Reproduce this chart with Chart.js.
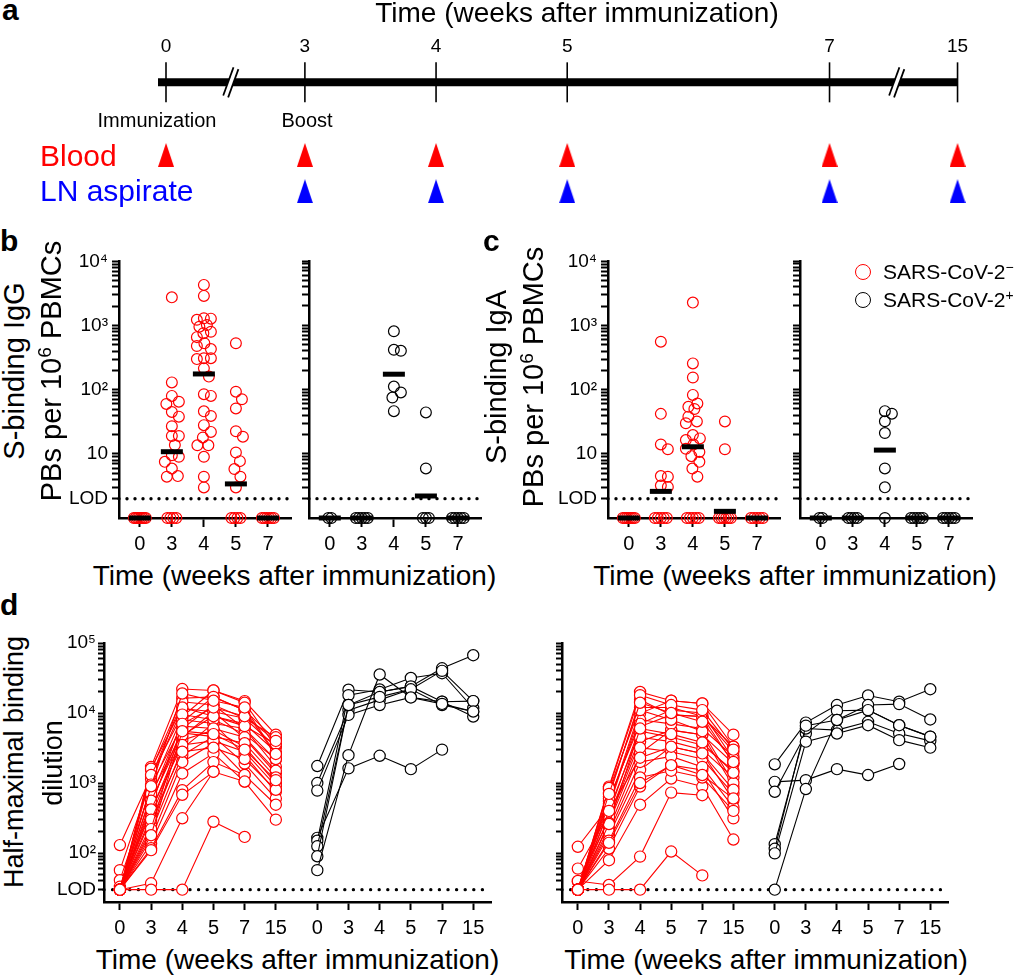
<!DOCTYPE html>
<html>
<head>
<meta charset="utf-8">
<script src="https://cdn.jsdelivr.net/npm/chart.js@4.4.1/dist/chart.umd.min.js"></script>
<style>
  html, body { margin: 0; padding: 0; background: #fff; }
  body { position: relative; width: 1014px; height: 976px; overflow: hidden; font-family: "Liberation Sans", Arial, sans-serif; color: #000; }
  .plot { position: absolute; }
  .t { position: absolute; white-space: nowrap; line-height: 1; }
  .t sup { font-size: 0.66em; line-height: 0; vertical-align: 0.5em; }
  .dot { position: absolute; width: 16px; height: 16px; border-radius: 50%; box-sizing: border-box; }
</style>
</head>
<body>
<script>
// ---------- a: timeline
const timelineWeeks = [0, 3, 4, 5, 7, 15];
const bloodWeeks = [0, 3, 4, 5, 7, 15];
const lnWeeks = [3, 4, 5, 7, 15];
const breakWeeks = [1.4, 11.2];

// ---------- b, c: plasmablasts per 10^6 PBMCs (ND = below LOD, drawn on the axis)
const bcWeeks = ['0', '3', '4', '5', '7'];
const ND = 1;
const LOD_BC = 2;

const igGNeg = [
  [ND, ND, ND, ND, ND, ND, ND, ND],
  [2750, 130, 80, 65, 60, 45, 38, 27, 19, 19, 13.7, 9.5, 9, 7.5, 5.9, 4.5, 4.4, ND, ND, ND, ND],
  [4300, 2900, 1300, 1280, 1230, 1020, 960, 800, 760, 660, 530, 480, 430, 310, 310, 300, 215, 160,
   85, 80, 46, 39, 28, 22, 18, 13.6, 13.6, 9, 4.4, 3],
  [530, 93, 71, 51, 22.5, 18.5, 10.5, 7.7, 5.8, 4.4, 3, ND, ND, ND, ND],
  [ND, ND, ND, ND, ND, ND]
];
const igGNegMed = [ND, 10.8, 176, 3.4, ND];

const igGPos = [
  [ND, ND],
  [ND, ND, ND, ND, ND],
  [805, 415, 400, 111, 90, 75, 46],
  [44, 5.9, ND, ND, ND],
  [ND, ND, ND, ND, ND]
];
const igGPosMed = [ND, ND, 173, 2.2, ND];

const igANeg = [
  [ND, ND, ND, ND, ND, ND, ND],
  [560, 42, 14, 11.8, 4.5, 4.4, 3.2, 3.05, ND, ND, ND, ND, ND],
  [2280, 257, 155, 83, 61, 54, 50, 38, 32, 30, 19.6, 17.4, 16.4, 14, 12, 10.7, 9.2, 7.5, 5.9, 4.4,
   ND, ND, ND, ND, ND],
  [32, 11.8, ND, ND, ND, ND, ND, ND],
  [ND, ND, ND, ND, ND]
];
const igANegMed = [ND, 2.6, 12.9, 1.27, ND];

const igAPos = [
  [ND, ND],
  [ND, ND, ND, ND],
  [46, 42, 32, 21, 5.9, 3, ND],
  [ND, ND, ND, ND, ND],
  [ND, ND, ND, ND, ND]
];
const igAPosMed = [ND, ND, 11.4, ND, ND];

// ---------- d: half-maximal binding dilution, one row per participant (weeks 0,3,4,5,7,15)
const dWeeks = ['0', '3', '4', '5', '7', '15'];
const LOD_D = 30;

const dLeftNeg = [
  [30, 1700, 22000, 21000, 14800, 4900],
  [30, 1530, 16300, 17000, 11000, 4100],
  [130, 1230, 14500, 13000, 8400, 3300],
  [57, 1130, 11600, 10400, 8400, 4500],
  [41, 840, 8900, 21000, 14000, 3300],
  [33, 640, 7500, 17000, 11000, 2500],
  [30, 510, 6000, 13000, 6000, 2140],
  [30, 460, 8000, 7100, 6000, 1710],
  [30, 390, 4600, 10400, 4350, 1370],
  [30, 330, 4100, 5700, 3300, 1000],
  [30, 250, 3100, 7100, 2500, 750],
  [30, 200, 2500, 4600, 1900, 600],
  [30, 160, 2000, 3700, 1300, 490],
  [30, 137, 1370, 2650, 1050, 300],
  [30, 117, 790, 1990, 1300, null],
  [30, 110, 680, 1450, 1050, null],
  [30, 37, 314, 1450, null, null],
  [30, 30, 30, 280, 170, null],
  [30, 1600, 12000, 9000, 7000, 2800],
  [30, 1300, 9500, 8000, 5000, 2200],
  [30, 950, 6500, 6000, 4500, 1500],
  [30, 700, 5200, 4600, 3700, 1200],
  [30, 560, 4800, 9000, 6500, 3600],
  [30, 420, 3500, 4000, 2800, 900],
  [30, 300, 2800, 3200, 2200, 800],
  [30, 220, 7000, 12000, 9000, 4000],
  [30, 180, 5500, 5000, 3000, 1100],
  [30, 900, 19000, 15000, 12000, 2600]
];
const dLeftPos = [
  [1750, 21500, 20000, 24000, 43500, 67000],
  [1000, 11000, 15400, 21800, 13000, 10500],
  [780, 9400, 13000, 16700, 14500, 8900],
  [165, 1620, 2450, 1580, 3000, null],
  [150, 18000, 21700, 31700, 37000, 11700],
  [125, 13000, 20000, 24000, 14500, 14800],
  [90, 13000, 17000, 21800, 40000, 14800],
  [57, 2500, 35500, 16700, 13500, 10500]
];
const dRightNeg = [
  [30, 890, 20000, 15000, 13700, 4900],
  [30, 640, 15500, 9400, 8900, 3300],
  [123, 460, 9900, 15000, 13700, 3300],
  [60, 370, 6400, 9400, 8900, 1900],
  [39, 297, 3900, 5700, 4900, 1900],
  [30, 225, 2650, 5700, 4900, 890],
  [30, 180, 1540, 3300, 2650, 570],
  [30, 116, 890, 1800, 1540, 313],
  [30, 79, 490, 1160, 890, 156],
  [40, 35, 89, 730, 670, null],
  [30, 30, 30, 105, 48, null],
  [30, 800, 12000, 12000, 9000, 2800],
  [30, 550, 8000, 7000, 6000, 2400],
  [30, 420, 5500, 4500, 3500, 1500],
  [30, 330, 4500, 3900, 3000, 1200],
  [30, 270, 3200, 2800, 2200, 700],
  [30, 200, 2000, 2400, 1700, 450],
  [30, 150, 1200, 1500, 1200, 400],
  [30, 600, 7000, 11000, 10000, 2200],
  [30, 500, 11000, 8000, 5500, 1000],
  [30, 850, 18000, 13000, 11000, 3000],
  [30, 260, 6000, 5000, 3800, 1400],
  [30, 400, 2300, 3300, 2650, 800],
  [30, 140, 1000, 1800, 1300, 600],
  [30, 700, 14000, 10000, 7500, 2000]
];
const dRightPos = [
  [1850, 7300, 13000, 17800, 14500, 21900],
  [1040, 1100, 1580, 1300, 1870, null],
  [750, 5100, 10800, 11000, 6700, 4600],
  [134, 6000, 5700, 7500, 5100, 4000],
  [115, 6600, 7950, 13000, 13400, 8100],
  [99, 3900, 5100, 6700, 4100, 3200],
  [30, 820, 7950, 11000, 6700, 4600]
];

const RED = '#ff0000', BLUE = '#0000ff', INK = '#000000';
Chart.defaults.font.family = "'Liberation Sans', Arial, sans-serif";
Chart.defaults.color = INK;

// broken time axis of panel a
function tlPos(w) {
  if (w < 3) return 3 - (3 - w) * 0.353;
  if (w > 7) return 7 + (w - 7) * 0.122;
  return w;
}

function text(html, x, base, size, o = {}) {
  const d = document.createElement('div');
  d.className = 't';
  d.innerHTML = html;
  d.style.fontSize = size + 'px';
  if (o.bold) d.style.fontWeight = 'bold';
  if (o.color) d.style.color = o.color;
  if (o.rot) {
    // rotated: x is the vertical centre, base is the x of the baseline
    d.style.left = (base - 0.3465 * size) + 'px';
    d.style.top = x + 'px';
    d.style.transform = 'translate(-50%,-50%) rotate(-90deg)';
  } else {
    d.style.left = x + 'px';
    d.style.top = (base - 0.8465 * size) + 'px';
    if (o.center) d.style.transform = 'translateX(-50%)';
  }
  document.body.appendChild(d);
}

function plotBox(area, yW, xH, padT, padR) {
  const [l, t, r, b] = area;
  const d = document.createElement('div');
  d.className = 'plot';
  d.style.left = (l - yW) + 'px';
  d.style.top = (t - padT) + 'px';
  d.style.width = (r - l + yW + padR) + 'px';
  d.style.height = (b - t + padT + xH) + 'px';
  const c = document.createElement('canvas');
  d.appendChild(c);
  document.body.appendChild(d);
  return c;
}

// first dataset ends up at the bottom
function layer(ds) {
  return ds.map((d, i) => Object.assign({ clip: false, order: ds.length - i }, d));
}

function opts(padding, scales) {
  return {
    responsive: true, maintainAspectRatio: false, animation: false, events: [], devicePixelRatio: 1,
    layout: { padding, autoPadding: false },
    plugins: { legend: { display: false }, tooltip: { enabled: false } },
    scales
  };
}

function logY(min, max, tickVals, labels, yW, showLabels, tickLen, pad, size) {
  return {
    type: 'logarithmic', min, max, position: 'left',
    afterBuildTicks: s => { s.ticks = tickVals.map(v => ({ value: v })); },
    afterFit: s => { s.width = yW; },
    ticks: { display: showLabels, autoSkip: false, padding: pad, font: { size }, color: INK,
             callback: v => labels[v] || '' },
    grid: { drawOnChartArea: false, drawTicks: true, tickLength: tickLen, tickWidth: 2, tickColor: INK, color: INK },
    border: { display: true, color: INK, width: 2.5 }
  };
}

function linX(min, max, tickVals, labels, xH, tickLen, pad, size, position = 'bottom', showGrid = true) {
  return {
    type: 'linear', min, max, position,
    afterBuildTicks: s => { s.ticks = tickVals.map(v => ({ value: v })); },
    afterFit: s => { s.height = xH; },
    ticks: { autoSkip: false, maxRotation: 0, padding: pad, font: { size }, color: INK,
             callback: (v, i) => labels[i] },
    grid: { display: showGrid, drawOnChartArea: false, drawTicks: showGrid, tickLength: tickLen,
            tickWidth: 2, tickColor: INK, color: INK },
    border: { display: showGrid, color: INK, width: 2.5 }
  };
}

// horizontal spread of a dot column, like a scatter dot plot
function swarmOffsets(vals, pxDec, pxUnit) {
  const SEP = 9.5, STEP = 0.5, MAXOFF = 7;
  const out = new Array(vals.length).fill(0);
  const nd = vals.map((v, i) => i).filter(i => vals[i] === ND);
  const span = Math.min((nd.length - 1) * 3, 12);
  nd.forEach((i, k) => {
    out[i] = nd.length > 1 ? (-span / 2 + span * k / (nd.length - 1)) / pxUnit : 0;
  });
  const placed = [];
  const rest = vals.map((v, i) => i).filter(i => vals[i] !== ND).sort((a, b) => vals[b] - vals[a]);
  for (const i of rest) {
    const y = Math.log10(vals[i]) * pxDec;
    let best = 0, bestD = -1;
    for (let s = 0; s <= (MAXOFF / STEP) * 2; s++) {
      const c = (s % 2 ? 1 : -1) * Math.ceil(s / 2) * STEP;
      let d = Infinity;
      for (const p of placed) d = Math.min(d, Math.hypot(p.x - c, p.y - y));
      if (d >= SEP) { best = c; bestD = d; break; }
      if (d > bestD) { bestD = d; best = c; }
    }
    placed.push({ x: best, y });
    out[i] = best / pxUnit;
  }
  return out;
}

// ---------- panel a
(function () {
  const TL_XMIN = 1.88, TL_XMAX = 8.01;
  const div = document.createElement('div');
  div.className = 'plot';
  div.style.cssText = 'left:0px;top:26px;width:1014px;height:187px';
  const canvas = document.createElement('canvas');
  div.appendChild(canvas);
  document.body.appendChild(div);

  function triangle(color) {
    const c = document.createElement('canvas');
    c.width = 16; c.height = 24;
    const g = c.getContext('2d');
    g.fillStyle = color;
    g.beginPath(); g.moveTo(8, 0); g.lineTo(16, 24); g.lineTo(0, 24); g.closePath(); g.fill();
    return c;
  }
  const breaks = breakWeeks.map(w => ({ x: tlPos(w), y: 0 }));
  const datasets = [
    { data: [{ x: TL_XMIN, y: 0 }, { x: tlPos(15), y: 0 }], showLine: true, borderColor: INK, borderWidth: 8, pointRadius: 0 },
    { data: breaks, pointStyle: 'line', pointRotation: -70, pointRadius: 15, pointBorderWidth: 7, pointBorderColor: INK },
    { data: breaks, pointStyle: 'line', pointRotation: -70, pointRadius: 19, pointBorderWidth: 3.5, pointBorderColor: '#ffffff' },
    { data: timelineWeeks.map(w => ({ x: tlPos(w), y: 0 })), pointStyle: 'line', pointRotation: 90, pointRadius: 20, pointBorderWidth: 1.6, pointBorderColor: INK },
    { data: bloodWeeks.map(w => ({ x: tlPos(w), y: 2 })), pointStyle: triangle(RED), pointRadius: 10 },
    { data: lnWeeks.map(w => ({ x: tlPos(w), y: 3 })), pointStyle: triangle(BLUE), pointRadius: 10 }
  ];
  new Chart(canvas, {
    type: 'scatter',
    data: { datasets: layer(datasets) },
    options: opts({ left: 158, right: 52, top: 0, bottom: 0 }, {
      x: linX(TL_XMIN, TL_XMAX, timelineWeeks.map(tlPos), timelineWeeks.map(String), 40, 0, 8, 19, 'top', false),
      y: { type: 'linear', display: false, reverse: true, min: -0.45, max: 3.6 }
    })
  });
})();

// ---------- panels b, c
const BC_XMIN = -0.65, BC_XMAX = 4.72;
const bcYTicks = [];
for (let e = 0; e < 4; e++) for (let m = (e === 0 ? 2 : 1); m < 10; m++) bcYTicks.push(m * Math.pow(10, e));
bcYTicks.push(10000);
const bcYLabels = { 2: 'LOD', 10: '10', 100: '10²', 1000: '10³', 10000: '10⁴' };

function bcChart(area, yW, groups, medians, color, showY) {
  const canvas = plotBox(area, yW, 40, 15, 6);
  const pts = [];
  groups.forEach((vals, wi) => {
    const off = swarmOffsets(vals, 64.25, 32);
    vals.forEach((v, k) => pts.push({ x: wi + off[k], y: v }));
  });
  const datasets = [
    { data: [{ x: BC_XMIN, y: LOD_BC }, { x: BC_XMAX, y: LOD_BC }], showLine: true, borderColor: INK,
      borderWidth: 3.4, borderDash: [0, 8], borderCapStyle: 'round', pointRadius: 0 },
    { data: pts, pointRadius: 5.4, pointBorderWidth: 1.2, pointBorderColor: color, pointBackgroundColor: 'rgba(255,255,255,0)' },
    { data: medians.map((m, wi) => ({ x: wi, y: m })), pointStyle: 'line', pointRadius: 11, pointBorderWidth: 5, pointBorderColor: INK }
  ];
  new Chart(canvas, {
    type: 'scatter',
    data: { datasets: layer(datasets) },
    options: opts({ left: 0, right: 6, top: 15, bottom: 0 }, {
      x: linX(BC_XMIN, BC_XMAX, [0, 1, 2, 3, 4], bcWeeks, 40, 9, 5, 20),
      y: logY(1, 10000, bcYTicks, bcYLabels, yW, showY, 7, 4, 19)
    })
  });
}

bcChart([119, 261, 291, 518], 60, igGNeg, igGNegMed, RED, true);
bcChart([309, 261, 481, 518], 12, igGPos, igGPosMed, INK, false);
bcChart([608, 261, 780, 518], 60, igANeg, igANegMed, RED, true);
bcChart([800, 261, 972, 518], 12, igAPos, igAPosMed, INK, false);

// ---------- panel d
const D_XMIN = -0.51, D_XMAX = 11.9, D_GAP = 6.33;
const dYTicks = [30, 40, 50, 60, 70, 80, 90];
for (let e = 2; e < 5; e++) for (let m = 1; m < 10; m++) dYTicks.push(m * Math.pow(10, e));
dYTicks.push(100000);
const dYLabels = { 30: 'LOD', 100: '10²', 1000: '10³', 10000: '10⁴', 100000: '10⁵' };
const dXTicks = dWeeks.map((w, i) => i).concat(dWeeks.map((w, i) => D_GAP + i));

function dChart(area, yW, negRows, posRows, showY) {
  const canvas = plotBox(area, yW, 40, 15, 6);
  const subject = (row, x0, color) => ({
    data: row.map((v, i) => v == null ? null : { x: x0 + i, y: v }).filter(Boolean),
    showLine: true, borderColor: color, borderWidth: 1.1,
    pointRadius: 5.6, pointBorderWidth: 1.2, pointBorderColor: color, pointBackgroundColor: '#ffffff'
  });
  const datasets = [
    { data: [{ x: D_XMIN, y: LOD_D }, { x: D_XMAX, y: LOD_D }], showLine: true, borderColor: INK,
      borderWidth: 3.4, borderDash: [0, 8.6], borderCapStyle: 'round', pointRadius: 0 },
    ...negRows.map(r => subject(r, 0, RED)),
    ...posRows.map(r => subject(r, D_GAP, INK))
  ];
  new Chart(canvas, {
    type: 'scatter',
    data: { datasets: layer(datasets) },
    options: opts({ left: 0, right: 6, top: 15, bottom: 0 }, {
      x: linX(D_XMIN, D_XMAX, dXTicks, dWeeks.concat(dWeeks), 40, 8, 6, 20),
      y: logY(20, 100000, dYTicks, dYLabels, yW, showY, 6, 2, 19)
    })
  });
}

dChart([104, 643, 491, 902], 60, dLeftNeg, dLeftPos, true);
dChart([562, 643, 948, 902], 12, dRightNeg, dRightPos, false);

// ---------- texts
const TIME = 'Time (weeks after immunization)';
text('a', 2, 20, 30, { bold: true });
text(TIME, 577, 23, 28, { center: true });
text('Immunization', 157, 127, 20, { center: true });
text('Boost', 307, 127, 20, { center: true });
text('Blood', 40, 166, 30, { color: RED });
text('LN aspirate', 40, 201, 30, { color: BLUE });

text('b', 0, 251, 30, { bold: true });
text('S-binding IgG', 371, 24, 29, { rot: true });
text('PBs per 10<sup>6</sup> PBMCs', 371, 61, 29, { rot: true });
text(TIME, 294.5, 586, 28, { center: true });

text('c', 483, 251, 30, { bold: true });
text('S-binding IgA', 377, 506, 29, { rot: true });
text('PBs per 10<sup>6</sup> PBMCs', 377, 543, 29, { rot: true });
text(TIME, 795, 586, 28, { center: true });

text('d', 0, 615, 30, { bold: true });
text('Half-maximal binding', 762, 23, 27, { rot: true });
text('dilution', 763, 62, 27, { rot: true });
text(TIME, 297.5, 970, 28, { center: true });
text(TIME, 766, 970, 28, { center: true });

// legend of panel c
[[RED, 272, 'SARS-CoV-2<sup>\u2212</sup>', 279], [INK, 300, 'SARS-CoV-2<sup>+</sup>', 307]].forEach(([col, cy, label, base]) => {
  const d = document.createElement('div');
  d.className = 'dot';
  d.style.left = '855px';
  d.style.top = (cy - 8) + 'px';
  d.style.border = '1.3px solid ' + col;
  document.body.appendChild(d);
  text(label, 883, base, 21);
});
</script>
</body>
</html>
